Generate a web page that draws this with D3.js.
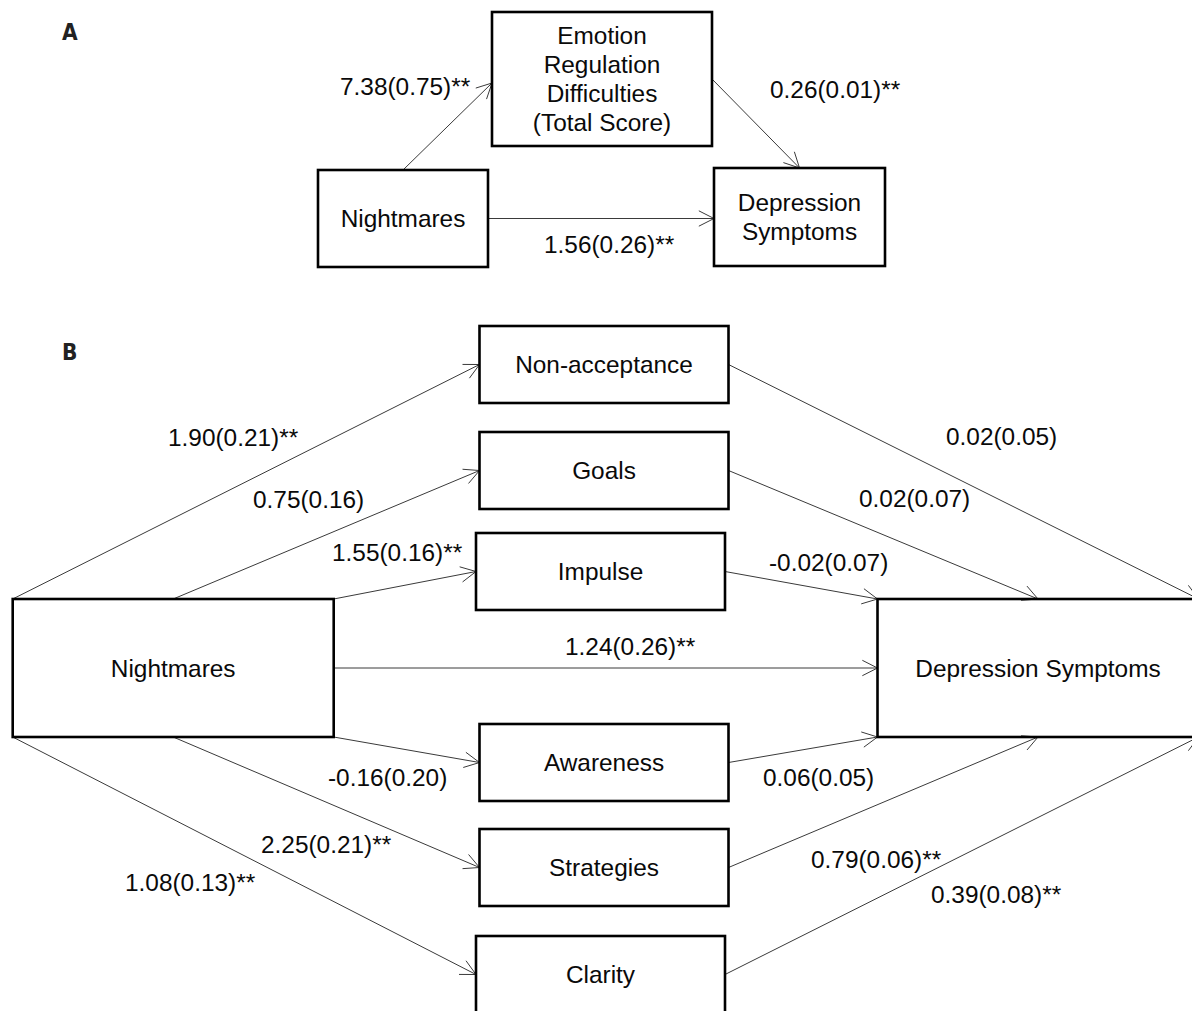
<!DOCTYPE html>
<html>
<head>
<meta charset="utf-8">
<script src="https://cdn.jsdelivr.net/npm/d3@7"></script>
<style>
  body { margin: 0; background: #fff; }
</style>
</head>
<body>
<div id="diagram"></div>
<script>
// ---- Data ----
// Panel A: simple mediation with the total score
var panelA_nodes = ["Nightmares", "Emotion Regulation Difficulties (Total Score)", "Depression Symptoms"]
var panelA_coef = [7.38, 0.26, 1.56]   // a, b, c'
var panelA_se = [0.75, 0.01, 0.26]
var panelA_sig = [true, true, true]

// Panel B: parallel mediation with the six subscales
var mediators = ["Non-acceptance", "Goals", "Impulse", "Awareness", "Strategies", "Clarity"]
var aCoef = [1.90, 0.75, 1.55, -0.16, 2.25, 1.08]
var aSE = [0.21, 0.16, 0.16, 0.20, 0.21, 0.13]
var aSig = [true, false, true, false, true, true]
var bCoef = [0.02, 0.02, -0.02, 0.06, 0.79, 0.39]
var bSE = [0.05, 0.07, 0.07, 0.05, 0.06, 0.08]
var bSig = [false, false, false, false, true, true]
var directB = { coef: 1.24, se: 0.26, sig: true }

// ---- Layout ----
var width = 1192, height = 1011
var FONT = "'Liberation Sans', Arimo, Arial, Helvetica, sans-serif"
var fmt = d3.formatLocale({ decimal: ".", thousands: ",", grouping: [3], currency: ["", ""], minus: "-" }).format(".2f")
var label = (c, s, sig) => `${fmt(c)}(${fmt(s)})${sig ? "**" : ""}`

// panel A boxes
var boxA = {
  "Nightmares": { x: 318, y: 170, w: 170, h: 97, lines: ["Nightmares"] },
  "Emotion Regulation Difficulties (Total Score)": { x: 492, y: 12, w: 220, h: 134, lines: ["Emotion", "Regulation", "Difficulties", "(Total Score)"] },
  "Depression Symptoms": { x: 714, y: 168, w: 171, h: 98, lines: ["Depression", "Symptoms"] }
}
// label anchor (start x, baseline y) for a, b, c'
var labelA = [[340, 95], [770, 98], [544, 253]]

// panel B columns and rows
var colX = d3.scaleOrdinal().domain(["x", "m", "y"]).range([12.7, 479, 877.5])
var colW = d3.scaleOrdinal().domain(["x", "m", "y"]).range([321, 249, 321])
var rowTop = d3.scaleOrdinal().domain(mediators).range([326, 432, 533, 724, 829, 936])
var rowShift = d3.scaleOrdinal().domain(mediators).range([0.5, 0.5, -3, 0.5, 0.5, -3])
var medH = 77
var bigTop = 599, bigH = 138

var labelAPos = [[168, 446], [253, 508], [332, 561], [328, 786], [261, 853], [125, 891]]
var labelBPos = [[946, 445], [859, 507], [769, 571], [763, 786], [811, 868], [931, 903]]
var labelDirect = [565, 655]

var svg = d3.select("#diagram").append("svg")
  .attr("width", width)
  .attr("height", height)
  .style("font-family", FONT)

var lineG = svg.append("g").attr("class", "edges")
var boxG = svg.append("g").attr("class", "boxes")
var textG = svg.append("g").attr("class", "labels")

function drawBox(b, lines) {
  boxG.append("rect")
    .attr("x", b.x).attr("y", b.y)
    .attr("width", b.w).attr("height", b.h)
    .attr("fill", "none")
    .attr("stroke", "#000")
    .attr("stroke-width", 2.6)
  var lh = 29
  var cy = b.y + b.h / 2 - (lines.length - 1) * lh / 2
  lines.forEach((t, i) => {
    boxG.append("text")
      .attr("x", b.x + b.w / 2)
      .attr("y", cy + i * lh + 8.5)
      .attr("text-anchor", "middle")
      .style("font-family", FONT)
      .style("font-size", "24.4px")
      .style("fill", "#0a0a0a")
      .text(t)
  })
}

function arrow(p0, p1) {
  var ang = Math.atan2(p1[1] - p0[1], p1[0] - p0[0])
  var len = 17, spread = 0.47
  var path = d3.path()
  path.moveTo(p0[0], p0[1])
  path.lineTo(p1[0], p1[1])
  path.moveTo(p1[0] - len * Math.cos(ang - spread), p1[1] - len * Math.sin(ang - spread))
  path.lineTo(p1[0], p1[1])
  path.lineTo(p1[0] - len * Math.cos(ang + spread), p1[1] - len * Math.sin(ang + spread))
  lineG.append("path")
    .attr("d", path.toString())
    .attr("fill", "none")
    .attr("stroke", "#3a3a3a")
    .attr("stroke-width", 1)
}

function putLabel(pos, txt) {
  textG.append("text")
    .attr("x", pos[0])
    .attr("y", pos[1])
    .style("font-family", FONT)
    .style("font-size", "24.4px")
    .style("fill", "#0a0a0a")
    .text(txt)
}

function panelTag(y, t) {
  svg.append("text")
    .attr("x", 62)
    .attr("y", y)
    .style("font-family", "'DejaVu Sans Condensed', 'DejaVu Sans', sans-serif")
    .style("font-stretch", "condensed")
    .style("font-weight", "bold")
    .style("font-size", "22.5px")
    .style("fill", "#222")
    .text(t)
}

// ---- Panel A ----
panelTag(40, "A")

var nA = boxA[panelA_nodes[0]], mA = boxA[panelA_nodes[1]], yA = boxA[panelA_nodes[2]]
arrow([nA.x + nA.w / 2, nA.y], [mA.x, mA.y + mA.h / 2 + 4])
arrow([mA.x + mA.w, mA.y + mA.h / 2], [yA.x + yA.w / 2, yA.y])
arrow([nA.x + nA.w, nA.y + nA.h / 2], [yA.x, nA.y + nA.h / 2])
panelA_nodes.forEach(k => drawBox(boxA[k], boxA[k].lines))
panelA_coef.forEach((c, i) => putLabel(labelA[i], label(c, panelA_se[i], panelA_sig[i])))

// ---- Panel B ----
panelTag(360, "B")

var X = { x: colX("x"), y: bigTop, w: colW("x"), h: bigH }
var Y = { x: colX("y"), y: bigTop, w: colW("y"), h: bigH }

mediators.forEach((m, i) => {
  var top = i < 3
  var k = top ? i : 5 - i            // 0 = outer corner, 1 = middle, 2 = inner corner
  var mx = colX("m") + rowShift(m)
  var my = rowTop(m) + medH / 2
  var src = [X.x + X.w * k / 2, top ? X.y : X.y + X.h]
  var tgt = [Y.x + Y.w * (2 - k) / 2, top ? Y.y : Y.y + Y.h]
  arrow(src, [mx, my])
  arrow([mx + colW("m"), my], tgt)
  putLabel(labelAPos[i], label(aCoef[i], aSE[i], aSig[i]))
  putLabel(labelBPos[i], label(bCoef[i], bSE[i], bSig[i]))
})

arrow([X.x + X.w, X.y + X.h / 2], [Y.x, Y.y + Y.h / 2])
putLabel(labelDirect, label(directB.coef, directB.se, directB.sig))

drawBox(X, ["Nightmares"])
drawBox(Y, ["Depression Symptoms"])
mediators.forEach(m => {
  drawBox({ x: colX("m") + rowShift(m), y: rowTop(m), w: colW("m"), h: medH }, [m])
})
</script>
</body>
</html>
